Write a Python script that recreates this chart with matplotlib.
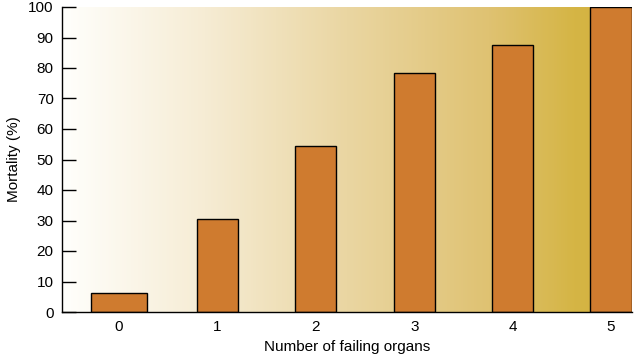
import matplotlib
matplotlib.use("Agg")
import matplotlib.pyplot as plt
import numpy as np
from matplotlib.colors import LinearSegmentedColormap

categories = ["0", "1", "2", "3", "4", "5"]
mortality = [6.2, 30.5, 54.3, 78.3, 87.5, 100]
y_ticks = [0, 10, 20, 30, 40, 50, 60, 70, 80, 90, 100]

plt.rcParams['font.family'] = ['Liberation Sans', 'DejaVu Sans']
plt.rcParams['font.size'] = 11

fig = plt.figure(figsize=(6.34, 3.58), dpi=100)
ax = fig.add_axes([62/634, 1 - 312/358, 570/634, 305/358])

xlim = (-0.579, 5.213)
ax.set_xlim(*xlim)
ax.set_ylim(0, 100)

cmap = LinearSegmentedColormap.from_list("bg", [
    (0.0, "#fffffc"), (0.25, "#f6ecd4"), (0.5, "#ead6a2"),
    (0.75, "#dfc272"), (0.9, "#d5b545"), (1.0, "#d4b03c")])
grad = np.linspace(0, 1, 512).reshape(1, -1)
ax.imshow(grad, aspect='auto', cmap=cmap, extent=[xlim[0], xlim[1], 0, 100],
          zorder=0, interpolation='bilinear')

x = np.arange(len(categories))
widths = [0.57] + [0.42] * (len(categories) - 1)
ax.bar(x, mortality, width=widths, color="#cf7b2f", edgecolor="black",
       linewidth=1.0, zorder=2)

ax.set_xticks(x)
ax.set_xticklabels(categories)
ax.set_yticks(y_ticks)
ax.tick_params(axis='x', length=0, pad=6)
ax.tick_params(axis='y', direction='in', length=10, width=1, pad=6)
for s in ['top', 'right']:
    ax.spines[s].set_visible(False)
ax.spines['left'].set_linewidth(1)
ax.spines['bottom'].set_linewidth(1)

ax.set_xlabel("Number of failing organs", labelpad=4)
ax.set_ylabel("Mortality (%)", labelpad=5)

fig.savefig("out.png", dpi=100)
